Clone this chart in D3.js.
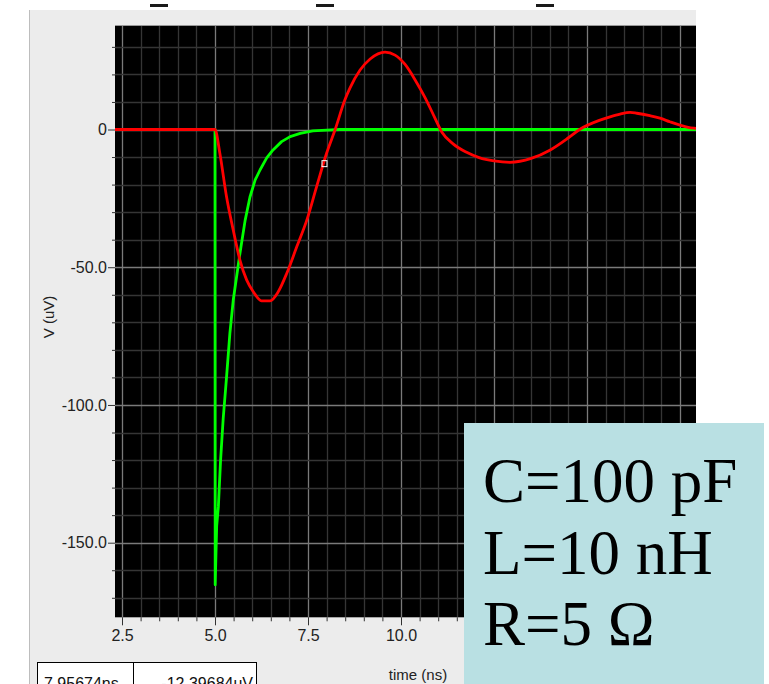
<!DOCTYPE html>
<html>
<head>
<meta charset="utf-8">
<script src="https://cdn.jsdelivr.net/npm/d3@7"></script>
<style>
  html, body { margin: 0; padding: 0; background: #fff; }
  svg { display: block; }
  .tick text { font-family: "Liberation Sans", Arial, sans-serif; }
</style>
</head>
<body>
<div id="chart"></div>
<script>
// values (time in ns, voltage in uV)
const redTime = [2.3, 5.0, 5.13, 5.31, 5.49, 5.67, 5.85, 6.03, 6.25, 6.48, 6.70, 6.93, 7.20, 7.47, 7.73, 8.0, 8.23, 8.49, 8.63, 8.9, 9.17, 9.57, 9.84, 10.11, 10.38, 10.65, 10.9, 11.1, 11.4, 11.75, 12.1, 12.5, 12.93, 13.5, 14.0, 14.5, 14.8, 15.35, 15.62, 15.89, 16.16, 16.34, 16.69, 16.96, 17.23, 17.5, 17.72, 17.93, 18.2];
const redVolt = [0, 0, -8.6, -24.4, -36.5, -47.4, -54.6, -58.9, -62.2, -62.2, -58.9, -52.2, -42.5, -32.8, -20.8, -8.6, 0, 10.7, 15.1, 21.6, 25.6, 28.1, 27.0, 23.6, 18, 11.5, 4.5, -1, -5.2, -8.2, -10.2, -11.4, -11.9, -10.5, -7.5, -3, 0, 3.4, 4.6, 5.6, 6.2, 5.9, 5.0, 4.1, 2.8, 1.6, 0.8, 0.4, 0];
const greenTime = [2.3, 5.0, 5.005, 5.045, 5.09, 5.15, 5.22, 5.31, 5.40, 5.49, 5.67, 5.81, 5.94, 6.08, 6.21, 6.39, 6.56, 6.79, 7.02, 7.29, 7.63, 8.0, 8.36, 18.2];
const greenVolt = [0, 0, -165.3, -144, -137, -120, -105, -90, -74, -62, -45, -33, -24.5, -18.3, -14.7, -10.3, -7.4, -4.4, -2.6, -1.4, -0.5, -0.2, 0, 0];
const cursor = { t: 7.95674, v: -12.39684 };
const readout = ["7.95674ns", "-12.39684uV"];

// labelled ticks that are visible (later ones sit under the parameter box)
const xTickValues = [2.5, 5, 7.5, 10];
const xTickLabels = ["2.5", "5.0", "7.5", "10.0"];
const xMajorExtra = [12.5, 15, 17.5];
const yTickValues = [0, -50, -100, -150];
const yTickLabels = ["0", "-50.0", "-100.0", "-150.0"];
const legendLines = ["C=100 pF", "L=10 nH", "R=5 \u03A9"];

const W = 769, H = 684;
const svg = d3.select('#chart').append('svg').attr('width', W).attr('height', H);

// scales pinned to the pixel positions of the ticks
const x = d3.scaleLinear().domain([2.5, 10]).range([122, 401]);
const y = d3.scaleLinear().domain([0, -150]).range([129.5, 542.7]);
const plot = { left: 115, right: 696, top: 26, bottom: 617.3 };

// artifacts at the very top
[150, 316, 536].forEach(px => svg.append('rect').attr('x', px).attr('y', 4).attr('width', 18).attr('height', 3).attr('fill', '#1a1a1a'));

// grey window panel
svg.append('rect').attr('x', 29).attr('y', 10).attr('width', plot.right - 29).attr('height', H - 10).attr('fill', '#ececec');
svg.append('line').attr('x1', 29.5).attr('x2', 29.5).attr('y1', 10).attr('y2', H).attr('stroke', '#bdbdbd');

// plot area
svg.append('defs').append('clipPath').attr('id', 'clip').append('rect')
  .attr('x', plot.left).attr('y', plot.top).attr('width', plot.right - plot.left).attr('height', plot.bottom - plot.top);
svg.append('rect').attr('x', plot.left).attr('y', plot.top).attr('width', plot.right - plot.left).attr('height', plot.bottom - plot.top).attr('fill', '#000');
svg.append('line').attr('x1', plot.left).attr('x2', plot.right).attr('y1', plot.top - 0.5).attr('y2', plot.top - 0.5).attr('stroke', '#999');

const g = svg.append('g').attr('clip-path', 'url(#clip)');
const xMinor = d3.range(2.5, 18.01, 0.5);
const yMinor = d3.range(-170, 31, 10);
g.selectAll('.vx').data(xMinor).join('line')
  .attr('x1', d => Math.round(x(d)) + 0.5).attr('x2', d => Math.round(x(d)) + 0.5)
  .attr('y1', plot.top).attr('y2', plot.bottom)
  .attr('stroke', d => (Math.abs(d % 2.5) < 1e-6 ? '#7a7a7a' : '#353535')).attr('stroke-width', 1.3);
g.selectAll('.hy').data(yMinor).join('line')
  .attr('y1', d => Math.round(y(d)) + 0.5).attr('y2', d => Math.round(y(d)) + 0.5)
  .attr('x1', plot.left).attr('x2', plot.right)
  .attr('stroke', d => (d % 50 === 0 ? '#7a7a7a' : '#353535')).attr('stroke-width', 1.3);

const green = d3.zip(greenTime, greenVolt);
const red = d3.zip(redTime, redVolt);
const lineLin = d3.line().x(d => x(d[0])).y(d => y(d[1]));
const lineSmooth = d3.line().x(d => x(d[0])).y(d => y(d[1])).curve(d3.curveMonotoneX);
g.append('path').attr('d', lineLin(green)).attr('fill', 'none').attr('stroke', '#00ff00').attr('stroke-width', 2.8).attr('stroke-linejoin', 'round');
g.append('path').attr('d', lineSmooth(red)).attr('fill', 'none').attr('stroke', '#ff0000').attr('stroke-width', 2.8).attr('stroke-linejoin', 'round');

// cursor marker
g.append('rect').attr('x', x(cursor.t) - 3).attr('y', y(cursor.v) - 3).attr('width', 5).attr('height', 6)
  .attr('fill', 'none').attr('stroke', '#fff').attr('stroke-width', 1);

// axes
const axisStyle = sel => {
  sel.select('.domain').remove();
  sel.selectAll('.tick line').attr('stroke', '#333');
  sel.selectAll('.tick text').attr('fill', '#222').attr('font-size', 16);
};
svg.append('g').attr('transform', `translate(${plot.left},0)`)
  .call(d3.axisLeft(y).tickValues(yMinor.filter(d => d % 50 !== 0)).tickSize(3).tickFormat(''))
  .call(axisStyle);
svg.append('g').attr('transform', `translate(${plot.left},0)`)
  .call(d3.axisLeft(y).tickValues(yTickValues).tickSize(7).tickPadding(1).tickFormat((d, i) => yTickLabels[i]))
  .call(axisStyle);
svg.append('g').attr('transform', `translate(0,${plot.bottom})`)
  .call(d3.axisBottom(x).tickValues(xMinor.filter(d => Math.abs(d % 2.5) > 1e-6)).tickSize(4).tickFormat(''))
  .call(axisStyle);
svg.append('g').attr('transform', `translate(0,${plot.bottom})`)
  .call(d3.axisBottom(x).tickValues(xMajorExtra).tickSize(8).tickFormat(''))
  .call(axisStyle);
svg.append('g').attr('transform', `translate(0,${plot.bottom})`)
  .call(d3.axisBottom(x).tickValues(xTickValues).tickSize(8).tickPadding(4).tickFormat((d, i) => xTickLabels[i]))
  .call(axisStyle);

const sans = '"Liberation Sans", Arial, sans-serif';
svg.append('text').attr('x', 418).attr('y', 680).attr('text-anchor', 'middle')
  .attr('font-family', sans).attr('font-size', 15).attr('fill', '#222').text('time (ns)');
svg.append('text').attr('transform', 'translate(54,317) rotate(-90)').attr('text-anchor', 'middle')
  .attr('font-family', sans).attr('font-size', 15).attr('fill', '#222').text('V (uV)');

// cursor readout boxes (cut by the bottom edge)
svg.append('rect').attr('x', 37.5).attr('y', 662.5).attr('width', 96).attr('height', 40).attr('fill', '#fff').attr('stroke', '#000');
svg.append('rect').attr('x', 133.5).attr('y', 662.5).attr('width', 123).attr('height', 40).attr('fill', '#fff').attr('stroke', '#000');
svg.append('text').attr('x', 44).attr('y', 689).attr('font-family', sans).attr('font-size', 16).attr('fill', '#111').text(readout[0]);
svg.append('text').attr('x', 253).attr('y', 689).attr('text-anchor', 'end').attr('font-family', sans).attr('font-size', 16).attr('fill', '#111').text(readout[1]);

// parameter box
svg.append('rect').attr('x', 464).attr('y', 423).attr('width', 300).attr('height', H - 423).attr('fill', '#b9e0e3');
svg.append('g').selectAll('text').data(legendLines).join('text')
  .attr('x', 483).attr('y', (d, i) => 502 + i * 71.5)
  .attr('font-family', '"Liberation Serif", "Times New Roman", serif').attr('font-size', 63).attr('fill', '#000')
  .text(d => d);
</script>
</body>
</html>
